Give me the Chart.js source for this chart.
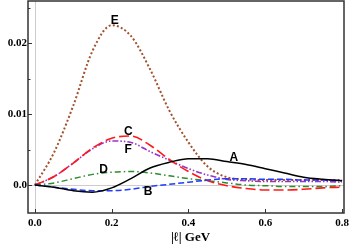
<!DOCTYPE html>
<html><head><meta charset="utf-8">
<script src="https://cdn.jsdelivr.net/npm/chart.js@4/dist/chart.umd.min.js"></script>
<style>html,body{margin:0;padding:0;background:#fff;}</style>
</head><body>
<canvas id="c" width="349" height="247"></canvas>
<script>
// ---- data (GeV on x) ----
const xValues = [0, 0.05, 0.10, 0.15, 0.20, 0.25, 0.30, 0.35, 0.40, 0.45, 0.50, 0.55, 0.60, 0.65, 0.70, 0.75, 0.80];
const seriesA = [0, -0.0003, -0.0008, -0.0010, -0.0004, 0.0009, 0.0024, 0.0032, 0.0037, 0.0037, 0.0033, 0.0029, 0.0023, 0.0017, 0.0011, 0.0008, 0.0006];
const seriesB = [0, -0.0003, -0.0006, -0.0008, -0.0008, -0.0006, -0.0002, 0.0001, 0.0004, 0.0007, 0.0009, 0.0009, 0.0008, 0.0008, 0.0007, 0.0007, 0.0006];
const seriesC = [0, 0.0012, 0.0031, 0.0052, 0.0066, 0.0069, 0.0056, 0.0036, 0.0019, 0.0006, -0.0001, -0.0005, -0.0007, -0.0007, -0.0006, -0.0004, -0.0003];
const seriesD = [0, 0.0003, 0.0009, 0.0015, 0.0018, 0.0019, 0.0017, 0.0013, 0.0009, 0.0006, 0.0003, 0.0000, -0.0001, -0.0002, -0.0002, -0.0002, -0.0001];
const seriesE = [0, 0.0046, 0.0112, 0.0189, 0.0225, 0.0210, 0.0163, 0.0105, 0.0060, 0.0026, 0.0011, 0.0008, 0.0007, 0.0007, 0.0007, 0.0007, 0.0007];
const seriesF = [0, 0.0012, 0.0031, 0.0051, 0.0062, 0.0060, 0.0047, 0.0035, 0.0023, 0.0014, 0.0008, 0.0006, 0.0005, 0.0005, 0.0005, 0.0005, 0.0004];
const seriesNames = ['A', 'B', 'C', 'D', 'E', 'F'];
const labelX = [0.518, 0.295, 0.243, 0.179, 0.208, 0.243];
const labelY = [0.00392, -0.00099, 0.00746, 0.00221, 0.02314, 0.00493];
const xTicks = [0, 0.2, 0.4, 0.6, 0.8];
const xTickLabels = ['0.0', '0.2', '0.4', '0.6', '0.8'];
const yTicks = [0, 0.01, 0.02];
const yTickLabels = ['0.0', '0.01', '0.02'];
const yMinorTicks = [0.005, 0.015, 0.025];
const xTitle = '|\u2113| GeV';

const allSeries = [seriesA, seriesB, seriesC, seriesD, seriesE, seriesF];
const styles = [
  {color: '#000000', dash: [], width: 1.5},
  {color: '#1f3cff', dash: [6, 3], width: 1.5},
  {color: '#ff1a1a', dash: [10, 4], width: 1.6},
  {color: '#2e8b2e', dash: [6, 3, 1.5, 3], width: 1.5},
  {color: '#a0522d', dash: [2, 2.2], width: 2},
  {color: '#9932cc', dash: [6, 2, 1.5, 2, 1.5, 2], width: 1.6}
];
const datasets = allSeries.map((s, i) => ({
  label: seriesNames[i],
  data: xValues.map((x, j) => ({x: x, y: s[j]})),
  borderColor: styles[i].color,
  borderDash: styles[i].dash,
  borderWidth: styles[i].width,
  pointRadius: 0,
  fill: false,
  cubicInterpolationMode: 'monotone'
}));

const serif = "'Liberation Serif', 'DejaVu Serif', serif";
const sans = "'Liberation Sans', Arial, sans-serif";

const decor = {
  id: 'decor',
  beforeDatasetsDraw(chart) {
    const {ctx, chartArea: a, scales: {x, y}} = chart;
    ctx.save();
    ctx.strokeStyle = '#cccccc';
    ctx.lineWidth = 1;
    const x0 = Math.round(x.getPixelForValue(0)) + 0.5;
    const y0 = Math.round(y.getPixelForValue(0)) + 0.5;
    ctx.beginPath();
    ctx.moveTo(x0, a.top); ctx.lineTo(x0, a.bottom);
    ctx.moveTo(a.left, y0); ctx.lineTo(a.right, y0);
    ctx.stroke();
    ctx.restore();
  },
  afterDatasetsDraw(chart) {
    const {ctx, chartArea: a, scales: {x, y}} = chart;
    ctx.save();
    ctx.strokeStyle = '#333333';
    ctx.lineWidth = 1.5;
    ctx.strokeRect(a.left, a.top, a.right - a.left, a.bottom - a.top);
    ctx.lineWidth = 1;
    ctx.beginPath();
    xTicks.forEach(v => {
      const px = Math.round(x.getPixelForValue(v)) + 0.5;
      ctx.moveTo(px, a.bottom); ctx.lineTo(px, a.bottom - 4);
    });
    yTicks.forEach(v => {
      const py = Math.round(y.getPixelForValue(v)) + 0.5;
      ctx.moveTo(a.left, py); ctx.lineTo(a.left + 4, py);
    });
    yMinorTicks.forEach(v => {
      const py = Math.round(y.getPixelForValue(v)) + 0.5;
      ctx.moveTo(a.left, py); ctx.lineTo(a.left + 2.5, py);
    });
    ctx.stroke();
    // tick labels
    ctx.fillStyle = '#000';
    ctx.font = 'bold 11px ' + serif;
    ctx.textAlign = 'center';
    ctx.textBaseline = 'middle';
    xTicks.forEach((v, i) => ctx.fillText(xTickLabels[i], x.getPixelForValue(v), a.bottom + 10.5));
    ctx.textAlign = 'right';
    yTicks.forEach((v, i) => ctx.fillText(yTickLabels[i], a.left - 1, y.getPixelForValue(v)));
    ctx.textAlign = 'center';
    ctx.font = 'bold 13px ' + serif;
    ctx.fillText(xTitle, (x.getPixelForValue(0.4) + 2), a.bottom + 25);
    // curve labels
    ctx.font = 'bold 12px ' + sans;
    seriesNames.forEach((n, i) => {
      ctx.fillText(n, x.getPixelForValue(labelX[i]), y.getPixelForValue(labelY[i]));
    });
    ctx.restore();
  }
};

new Chart(document.getElementById('c'), {
  type: 'line',
  data: {datasets: datasets},
  options: {
    responsive: false,
    animation: false,
    layout: {padding: {top: 1, right: 5, left: 0, bottom: 0}},
    plugins: {legend: {display: false}, tooltip: {enabled: false}},
    scales: {
      x: {
        type: 'linear', min: -0.018, max: 0.805,
        grid: {display: false, drawTicks: false, tickLength: 0},
        border: {display: false},
        afterBuildTicks: s => { s.ticks = xTicks.map(v => ({value: v})); },
        afterFit: s => { s.height = 34; },
        ticks: {display: false}
      },
      y: {
        type: 'linear', min: -0.00394, max: 0.02592,
        grid: {display: false, drawTicks: false, tickLength: 0},
        border: {display: false},
        afterBuildTicks: s => { s.ticks = yTicks.map(v => ({value: v})); },
        afterFit: s => { s.width = 28; },
        ticks: {display: false}
      }
    }
  },
  plugins: [decor]
});
</script>
</body></html>
